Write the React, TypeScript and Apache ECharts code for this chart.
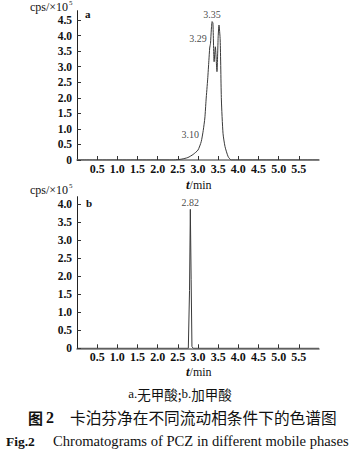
import React, { useEffect, useRef } from "react";
import * as echarts from "echarts";

const xTicks = [0.5, 1.0, 1.5, 2.0, 2.5, 3.0, 3.5, 4.0, 4.5, 5.0, 5.5];
const yTicksA = [0, 0.5, 1.0, 1.5, 2.0, 2.5, 3.0, 3.5, 4.0, 4.5];
const yTicksB = [0, 0.5, 1.0, 1.5, 2.0, 2.5, 3.0, 3.5, 4.0];

const timeA = [0, 2.4, 2.6, 2.75, 2.88, 3.0, 3.08, 3.13, 3.17, 3.2, 3.24, 3.27, 3.29, 3.31, 3.33, 3.35, 3.37, 3.4, 3.43, 3.47, 3.5, 3.52, 3.55, 3.58, 3.62, 3.67, 3.75, 3.83, 6.0];
const signalA = [0, 0, 0.03, 0.08, 0.18, 0.32, 0.59, 0.95, 1.35, 1.93, 2.6, 3.2, 3.6, 3.75, 4.18, 4.45, 4.4, 3.16, 3.64, 2.84, 3.96, 4.34, 3.86, 1.93, 0.86, 0.43, 0.1, 0, 0];

const timeB = [0, 2.76, 2.79, 2.81, 2.83, 2.85, 2.88, 6.0];
const signalB = [0, 0, 1.6, 3.85, 1.9, 0.05, 0, 0];

const peakTimesA = [3.10, 3.29, 3.35];
const peakValuesA = [0.62, 3.72, 4.45];
const peakTextA = ["3.10", "3.29", "3.35"];
const peakPosA = ["left", "left", "top"];

const peakTimesB = [2.81];
const peakValuesB = [3.85];
const peakTextB = ["2.82"];

const SERIF = "'Liberation Serif','Times New Roman',serif";
const CJK = "'Noto Sans CJK SC',sans-serif";

export default function App() {
  const ref = useRef<HTMLDivElement>(null);
  useEffect(() => {
    document.body.style.margin = "0";
    const chart = echarts.init(ref.current!, null, { renderer: "svg" });
    const fmt = (v: number) => (v === 0 ? "0" : v.toFixed(1));
    const xAxisCommon = (gridIndex: number) => ({
      type: "value",
      gridIndex,
      min: 0,
      max: 6,
      interval: 0.5,
      axisLine: { show: true, lineStyle: { color: "#777", width: 1.6 } },
      axisTick: { show: true, inside: true, length: 4, customValues: xTicks, lineStyle: { color: "#333" } },
      axisLabel: { customValues: xTicks, formatter: fmt, color: "#111", fontFamily: SERIF, fontWeight: "bold", fontSize: 12, margin: 3 },
      splitLine: { show: false },
    });
    const yAxisCommon = (gridIndex: number, max: number, ticks: number[]) => ({
      type: "value",
      gridIndex,
      min: 0,
      max,
      interval: 0.5,
      axisLine: { show: true, lineStyle: { color: "#222", width: 1 } },
      axisTick: { show: true, inside: true, length: 4, customValues: ticks, lineStyle: { color: "#333" } },
      axisLabel: { customValues: ticks, formatter: fmt, color: "#111", fontFamily: SERIF, fontWeight: "bold", fontSize: 11.5, margin: 5 },
      splitLine: { show: false },
    });
    const labelSeries = (idx: number, ts: number[], vs: number[], txt: string[], pos: string[]) => ({
      type: "scatter",
      xAxisIndex: idx,
      yAxisIndex: idx,
      symbolSize: 0,
      silent: true,
      data: ts.map((t, i) => ({
        value: [t, vs[i]],
        label: {
          show: true,
          formatter: txt[i],
          position: pos[i],
          distance: pos[i] === "top" ? 2 : 3,
          offset: pos[i] === "left" ? [0, -6] : [0, 0],
          fontFamily: SERIF,
          fontSize: 10,
          color: "#111",
        },
      })),
    });
    const axisTitle = (y: number) => [
      {
        type: "text",
        left: 30,
        top: y,
        style: { text: "cps/×10", font: `12px ${SERIF}`, fill: "#111" },
      },
      {
        type: "text",
        left: 69,
        top: y - 2,
        style: { text: "5", font: `7px ${SERIF}`, fill: "#111" },
      },
    ];
    const xName = (y: number) => ({
      type: "text",
      left: 186,
      top: y,
      style: {
        rich: {
          t: { fontFamily: SERIF, fontStyle: "italic", fontWeight: "bold", fontSize: 13, fill: "#111" },
          m: { fontFamily: SERIF, fontSize: 12, fill: "#111" },
        },
        text: "{t|t}{m|/min}",
      },
    });
    chart.setOption({
      animation: false,
      grid: [
        { left: 77, top: 10.7, width: 242, height: 149.3 },
        { left: 77, top: 196.7, width: 242, height: 151.6 },
      ],
      xAxis: [xAxisCommon(0), xAxisCommon(1)],
      yAxis: [yAxisCommon(0, 4.8, yTicksA), yAxisCommon(1, 4.2, yTicksB)],
      series: [
        {
          type: "line",
          xAxisIndex: 0,
          yAxisIndex: 0,
          showSymbol: false,
          smooth: 0.2,
          lineStyle: { color: "#3a3a3a", width: 1 },
          data: timeA.map((t, i) => [t, signalA[i]]),
          z: 1,
        },
        {
          type: "line",
          xAxisIndex: 1,
          yAxisIndex: 1,
          showSymbol: false,
          lineStyle: { color: "#3a3a3a", width: 1 },
          data: timeB.map((t, i) => [t, signalB[i]]),
          z: 1,
        },
        labelSeries(0, peakTimesA, peakValuesA, peakTextA, peakPosA),
        labelSeries(1, peakTimesB, peakValuesB, peakTextB, ["top"]),
      ],
      graphic: [
        ...axisTitle(1),
        ...axisTitle(184),
        { type: "text", left: 85, top: 8, style: { text: "a", font: `bold 11px ${SERIF}`, fill: "#111" } },
        { type: "text", left: 86, top: 197, style: { text: "b", font: `bold 11px ${SERIF}`, fill: "#111" } },
        xName(178),
        xName(365),
        {
          type: "text",
          left: "center",
          top: 387,
          style: {
            rich: {
              l: { fontFamily: SERIF, fontSize: 13, fill: "#111" },
              c: { fontFamily: CJK, fontSize: 13.5, fill: "#111" },
            },
            text: "{l|a.}{c|无甲酸;}{l|b.}{c|加甲酸}",
          },
        },
        {
          type: "text",
          left: 28,
          top: 410,
          style: { text: "图", font: `bold 15px ${CJK}`, fill: "#111" },
        },
        {
          type: "text",
          left: 46,
          top: 409,
          style: { text: "2", font: `bold 16px ${SERIF}`, fill: "#111" },
        },
        {
          type: "text",
          left: 70,
          top: 410,
          style: { text: "卡泊芬净在不同流动相条件下的色谱图", font: `15.7px ${CJK}`, fill: "#111" },
        },
        {
          type: "text",
          left: 6,
          top: 434,
          style: { text: "Fig.2", font: `bold 13.5px ${SERIF}`, fill: "#111" },
        },
        {
          type: "text",
          left: 53,
          top: 433,
          style: { text: "Chromatograms of PCZ in different mobile phases", font: `14.6px ${SERIF}`, fill: "#111" },
        },
      ],
    });
    return () => chart.dispose();
  }, []);
  return <div ref={ref} style={{ width: 360, height: 453 }} />;
}
